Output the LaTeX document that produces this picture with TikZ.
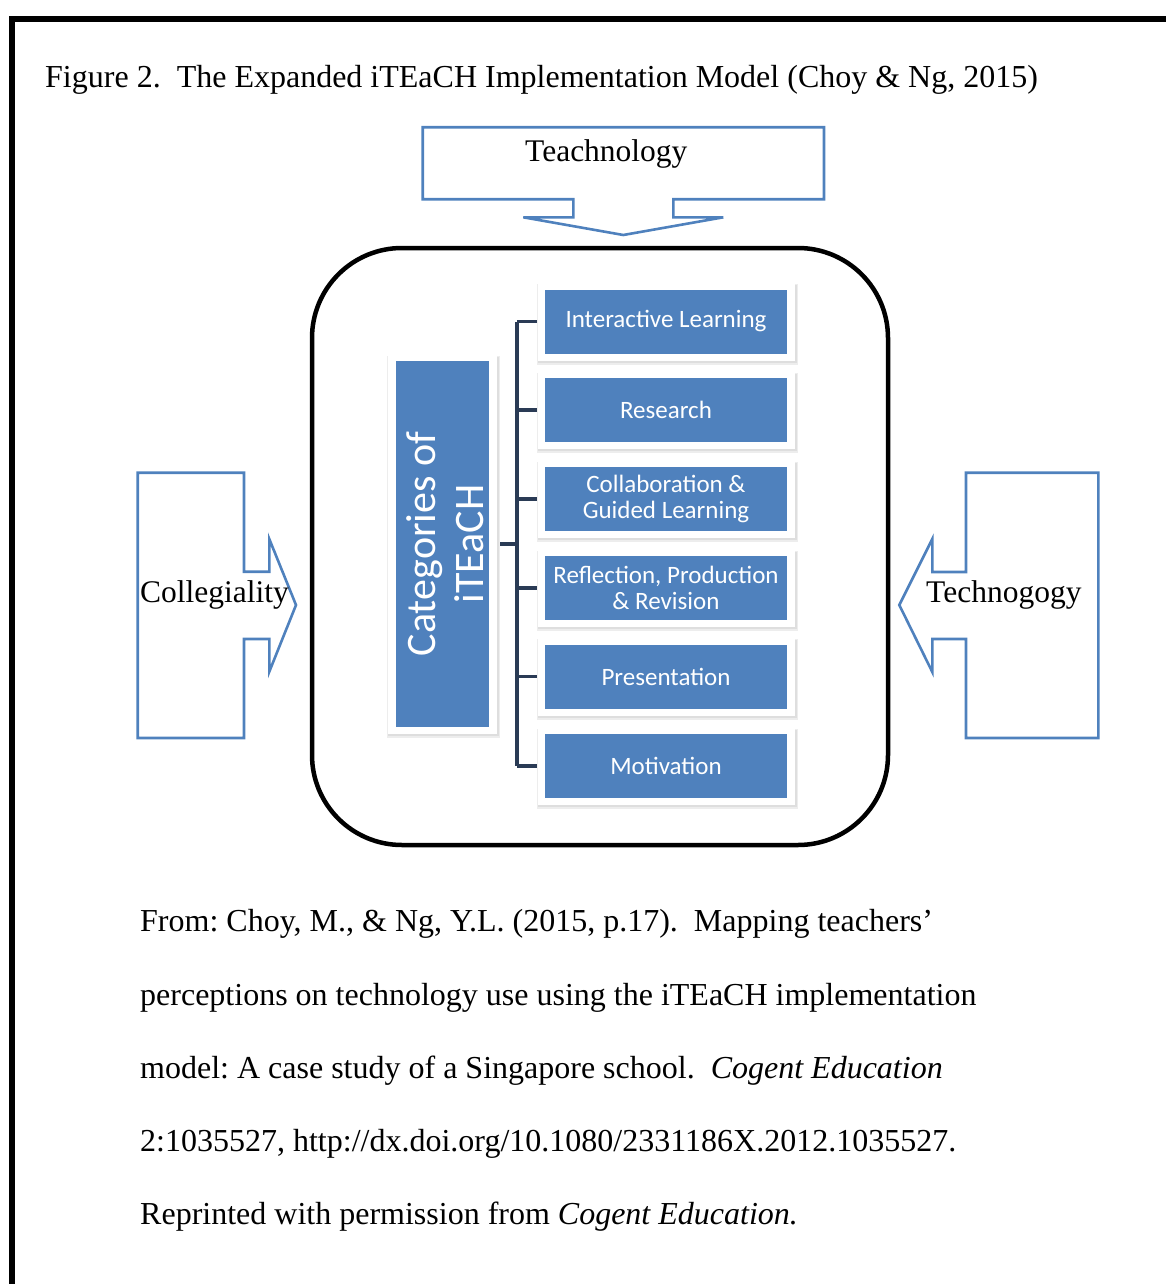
\documentclass[tikz,border=0pt]{standalone}
\usepackage{fontspec}
\setmainfont{Liberation Serif}
\newfontfamily\calib{Carlito}
\definecolor{ob}{HTML}{4F81BD}
\definecolor{connc}{HTML}{2A3B55}
\pgfdeclarelayer{background}
\pgfsetlayers{background,main}
\newcommand\glowframe[1]{%
  \fill[black!7] ([shift={(-8,-5)}]#1.north west) rectangle ([shift={(11,11)}]#1.south east);
  \fill[black!13] ([shift={(-7,-4)}]#1.north west) rectangle ([shift={(10,9)}]#1.south east);
  \fill[white] ([shift={(-7,-5)}]#1.north west) rectangle ([shift={(8,7)}]#1.south east);
}
\frenchspacing
\begin{document}
\begin{tikzpicture}[x=1pt,y=-1pt,
  callout/.style={draw=ob, line width=2.6pt, line join=miter},
  lbl/.style={font=\fontsize{31.5}{36}\selectfont, inner sep=0pt, anchor=base west},
  cite/.style={font=\fontsize{32}{38}\selectfont, inner sep=0pt, anchor=base west},
  item/.style={fill=ob, minimum width=242pt, minimum height=64pt, inner sep=0pt,
    text=white, align=center, font=\calib\fontsize{25}{26}\selectfont},
  conn/.style={draw=connc, line width=3.5pt},
]
\useasboundingbox (0,0) rectangle (1166,1284);
% page frame
\draw[line width=5.5pt] (12,1284) -- (12,19) -- (1166,19);

% title
\node[lbl, font=\fontsize{32}{36}\selectfont] (title) at (45,88) {Figure 2.~~The Expanded iTEaCH Implementation Model (Choy \& Ng, 2015)};

% Teachnology down callout
\draw[callout] (422.7,127.3) -- (824,127.3) -- (824,199.3) -- (673.3,199.3) -- (673.3,217.3)
  -- (723.3,217.3) -- (623.3,235) -- (523.3,217.3) -- (573.3,217.3) -- (573.3,199.3)
  -- (422.7,199.3) -- cycle;
\node[lbl] (teach) at (525,162) {Teachnology};

% Collegiality right callout
\draw[callout] (137.7,472.7) -- (244,472.7) -- (244,571.7) -- (269.3,571.7) -- (269.3,539)
  -- (296,605) -- (269.3,671.7) -- (269.3,639) -- (244,639) -- (244,738) -- (137.7,738) -- cycle;
\node[lbl] (coll) at (140,602) {Collegiality};

% Technogogy left callout
\draw[callout] (1098.3,472.7) -- (966,472.7) -- (966,572) -- (932.3,572) -- (932.3,539)
  -- (899.3,605) -- (932.3,672) -- (932.3,639) -- (966,639) -- (966,738) -- (1098.3,738) -- cycle;
\node[lbl] (techn) at (926,602) {Technogogy};

% central rounded frame
\node[draw, line width=4.5pt, rounded corners=90pt, minimum width=576pt, minimum height=597pt,
  inner sep=0pt] (core) at (600,546.5) {};

% categories box
\node[fill=ob, minimum width=93pt, minimum height=366pt, inner sep=0pt] (cat) at (442,544) {};
\node[rotate=90, text=white, inner sep=0pt, align=center,
  font=\calib\fontsize{42}{48}\selectfont] (catlbl) at ([xshift=3]cat.center) {Categories of\\iTEaCH};

% item boxes
\node[item] (b1) at (666,321.5) {Interactive Learning};
\node[item] (b2) at (666,410) {Research};
\node[item] (b3) at (666,499) {Collaboration \&\\Guided Learning};
\node[item] (b4) at (666,588) {Reflection, Production\\\& Revision};
\node[item] (b5) at (666,676.5) {Presentation};
\node[item] (b6) at (666,766) {Motivation};

\coordinate (bus) at (517,0);
\begin{pgfonlayer}{background}
  \draw[conn] (cat.east) -- (cat.east -| bus);
  \draw[conn] (b1.west -| bus) -- (b6.west -| bus);
  \foreach \b in {b1,b2,b3,b4,b5,b6} {\draw[conn] (\b.west -| bus) -- (\b.west);}
  \glowframe{cat}
  \foreach \b in {b1,b2,b3,b4,b5,b6} {\glowframe{\b}}
\end{pgfonlayer}

% citation
\node[cite] (c1) at (140,931) {From: Choy, M., \& Ng, Y.L. (2015, p.17).~~Mapping teachers’};
\node[cite] (c2) at (140,1005) {perceptions on technology use using the iTEaCH implementation};
\node[cite] (c3) at (140,1078) {model: A case study of a Singapore school.~~\textit{Cogent Education}};
\node[cite] (c4) at (140,1151) {2:1035527, http://dx.doi.org/10.1080/2331186X.2012.1035527.};
\node[cite] (c5) at (140,1224) {Reprinted with permission from \textit{Cogent Education.}};
\end{tikzpicture}
\end{document}
